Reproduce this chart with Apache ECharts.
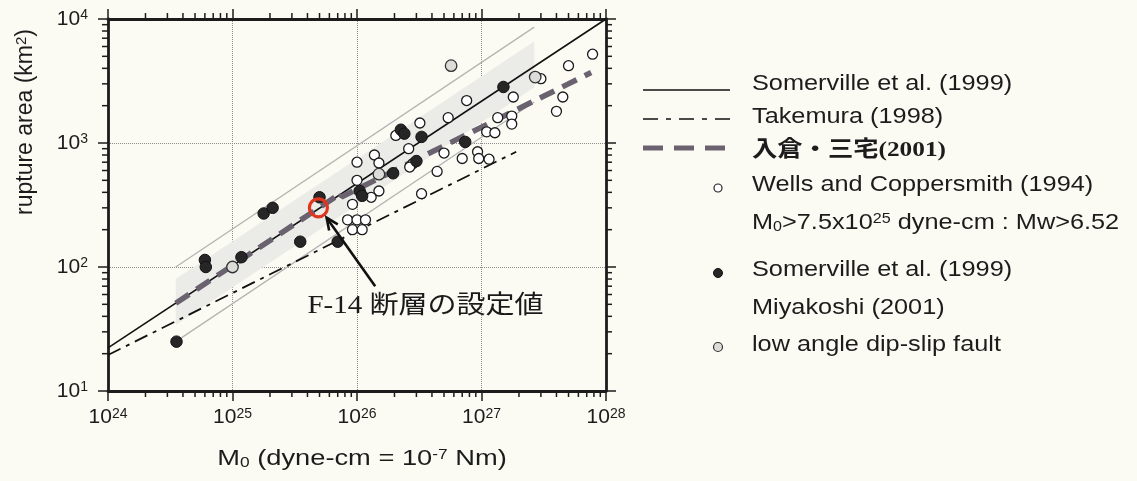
<!DOCTYPE html>
<html>
<head>
<meta charset="utf-8">
<title>rupture area vs seismic moment</title>
<script src="https://cdn.jsdelivr.net/npm/echarts@6/dist/echarts.min.js"></script>
<style>
  html, body { margin: 0; padding: 0; background: #fbfbf3; }
  #chart { width: 1137px; height: 481px; }
</style>
</head>
<body>
<div id="chart"></div>
<script>
// ---- data: [seismic moment M0 (dyne-cm), rupture area (km^2)] ----
const wellsCoppersmith = [
  [7.8e27, 5200], [5.0e27, 4200], [3.0e27, 3300], [1.8e27, 2350], [4.5e27, 2350],
  [7.6e26, 2200], [4.0e27, 1800], [5.4e26, 1600], [1.35e27, 1600], [1.75e27, 1650],
  [1.75e27, 1420], [3.2e26, 1450], [2.05e26, 1150], [1.1e27, 1230], [1.28e27, 1210],
  [2.6e26, 900], [5.0e26, 830], [9.3e26, 850], [9.5e26, 750], [1.15e27, 740],
  [7.0e26, 750], [1.38e26, 800], [1.0e26, 700], [1.5e26, 690], [2.8e26, 680],
  [2.65e26, 640], [4.4e26, 590], [1.0e26, 500], [1.5e26, 410], [3.3e26, 390],
  [1.3e26, 365], [9.2e25, 320], [8.4e25, 240], [1.0e26, 240], [1.17e26, 240],
  [9.2e25, 200], [1.1e26, 200]
];
const somervilleMiyakoshi = [
  [3.55e24, 25], [6.0e24, 114], [6.1e24, 100], [1.18e25, 120], [1.78e25, 270],
  [2.1e25, 300], [3.5e25, 160], [5.0e25, 365], [7.0e25, 160], [1.05e26, 410],
  [1.1e26, 375], [1.95e26, 570], [3.0e26, 715], [2.25e26, 1280], [2.4e26, 1190],
  [3.3e26, 1120], [7.4e26, 1020], [1.5e27, 2830]
];
const lowAngleDipSlip = [[1.0e25, 100], [1.5e26, 560], [5.7e26, 4200], [2.7e27, 3400]];
const f14Setting = [[4.9e25, 300]];

// scaling relations (end points of each drawn segment)
const somervilleLine = [[1e24, 22.3], [1e28, 10000]];
const takemuraLine = [[1e24, 19.5], [1.9e27, 850]];
const irikuraMiyakeLine = [[3.5e24, 51], [7.5e25, 396], [7.5e25, 367], [7.6e27, 3700]];
const upperFactorLine = [[3.5e24, 100], [2.65e27, 8600]];
const lowerFactorLine = [[3.5e24, 25], [2.65e27, 2140]];

// shaded band around the Somerville relation
const bandX = [3.5e24, 2.65e27];
const bandUpper = [80, 6600];
const bandLower = [34, 2800];

// annotation for the F-14 fault
const arrowTail = [1.4e26, 70];
const arrowHead = [5.7e25, 250];
const labelAnchor = [4.0e25, 48];
const f14Label = 'F-14 断層の設定値';

// axes
const xRange = [1e24, 1e28];
const yRange = [1e1, 1e4];
const minorMultipliers = [2, 3, 4, 5, 6, 7, 8, 9];
const xDecadeExponents = [24, 25, 26, 27];
const yDecadeExponents = [1, 2, 3];
const minorX = xDecadeExponents.flatMap(e => minorMultipliers.map(m => m * Math.pow(10, e)));
const minorY = yDecadeExponents.flatMap(e => minorMultipliers.map(m => m * Math.pow(10, e)));

const INK = '#1c1c1c';
const SANS = '"Liberation Sans", Arial, Helvetica, sans-serif';

const chart = echarts.init(document.getElementById('chart'));

const powLabel = v => '{b|10}{s|' + Math.round(Math.log10(v)) + '}';
const powRich = {
  b: { fontSize: 21, fontFamily: SANS, color: INK },
  s: { fontSize: 14, fontFamily: SANS, color: INK, verticalAlign: 'top' }
};

function logAxis(range, position, withLabels, axisIdx) {
  return {
    type: 'log', logBase: 10, min: range[0], max: range[1], position: position,
    axisLine: { show: true, onZero: false, lineStyle: { color: INK, width: 2.8 } },
    axisTick: { show: true, inside: false, length: 10, lineStyle: { color: INK, width: 1.5 } },
    axisLabel: withLabels ? {
      show: true, formatter: powLabel, rich: powRich,
      margin: axisIdx === 'x' ? 16 : 20
    } : { show: false },
    splitLine: { show: withLabels, lineStyle: { type: 'dotted', color: '#8c8c8c', width: 1 } },
    minorTick: { show: false }
  };
}

function minorXTicks(params, api) {
  const cs = params.coordSys;
  const px = api.coord([api.value(0), api.value(1)])[0];
  const st = { stroke: INK, lineWidth: 1.5 };
  return { type: 'group', children: [
    { type: 'line', shape: { x1: px, y1: cs.y + cs.height, x2: px, y2: cs.y + cs.height + 6 }, style: st },
    { type: 'line', shape: { x1: px, y1: cs.y, x2: px, y2: cs.y - 6 }, style: st }
  ] };
}
function minorYTicks(params, api) {
  const cs = params.coordSys;
  const py = api.coord([api.value(0), api.value(1)])[1];
  const st = { stroke: INK, lineWidth: 1.5 };
  return { type: 'group', children: [
    { type: 'line', shape: { x1: cs.x, y1: py, x2: cs.x - 6, y2: py }, style: st },
    { type: 'line', shape: { x1: cs.x + cs.width, y1: py, x2: cs.x + cs.width + 6, y2: py }, style: st }
  ] };
}

function bandRender(params, api) {
  const p = [
    api.coord([bandX[0], bandLower[0]]), api.coord([bandX[1], bandLower[1]]),
    api.coord([bandX[1], bandUpper[1]]), api.coord([bandX[0], bandUpper[0]])
  ];
  return { type: 'polygon', shape: { points: p }, style: { fill: '#ebebe8' } };
}

function annotationRender(params, api) {
  const t = api.coord(arrowTail), h = api.coord(arrowHead), a = api.coord(labelAnchor);
  const dx = h[0] - t[0], dy = h[1] - t[1], len = Math.hypot(dx, dy);
  const ux = dx / len, uy = dy / len, L = 13, ang = 0.42;
  const arm = s => [h[0] - L * (ux * Math.cos(ang) - s * uy * Math.sin(ang)),
                    h[1] - L * (uy * Math.cos(ang) + s * ux * Math.sin(ang))];
  const a1 = arm(1), a2 = arm(-1);
  const st = { stroke: '#111', lineWidth: 2.6 };
  return { type: 'group', children: [
    { type: 'line', shape: { x1: t[0], y1: t[1], x2: h[0], y2: h[1] }, style: st },
    { type: 'polyline', shape: { points: [a1, h, a2] }, style: Object.assign({ fill: null }, st) },
    { type: 'text', x: a[0], y: a[1], scaleX: 1.16,
      style: { text: f14Label, fontSize: 25, fontFamily: '"Liberation Serif", "DejaVu Serif", "Noto Sans CJK JP", serif',
               fill: '#1a1a1a', align: 'left', verticalAlign: 'middle' } }
  ] };
}

const lineSeries = (data, style, z) => ({
  type: 'line', data: data, symbol: 'none', silent: true, z: z,
  lineStyle: style, animation: false
});

const legendText = (x, y, text, extra) => Object.assign({
  type: 'text', x: x, y: y, scaleX: 1.15,
  style: Object.assign({ text: text, fontSize: 22, fontFamily: SANS, fill: INK, verticalAlign: 'middle',
    rich: {
      sub: { fontSize: 14, fontFamily: SANS, fill: INK, verticalAlign: 'bottom' },
      sup: { fontSize: 14, fontFamily: SANS, fill: INK, verticalAlign: 'top' }
    } }, extra || {})
});

const option = {
  backgroundColor: '#fbfbf3',
  animation: false,
  grid: { left: 108, right: 531, top: 19, bottom: 90, containLabel: false, outerBoundsMode: 'none' },
  xAxis: [logAxis(xRange, 'bottom', true, 'x'), logAxis(xRange, 'top', false, 'x')],
  yAxis: [logAxis(yRange, 'left', true, 'y'), logAxis(yRange, 'right', false, 'y')],
  series: [
    { type: 'custom', renderItem: bandRender, data: [[bandX[0], bandUpper[0]]], silent: true, z: 1, clip: false },
    lineSeries(upperFactorLine, { color: '#b4b4b4', width: 1.3 }, 2),
    lineSeries(lowerFactorLine, { color: '#b4b4b4', width: 1.3 }, 2),
    lineSeries(takemuraLine, { color: '#111', width: 1.8, type: [14, 6, 4, 6] }, 3),
    lineSeries(somervilleLine, { color: '#111', width: 1.6 }, 3),
    lineSeries(irikuraMiyakeLine, { color: '#6b6270', width: 5.5, type: [16, 9] }, 4),
    { name: 'Wells and Coppersmith (1994)', type: 'scatter', data: wellsCoppersmith, symbol: 'circle', symbolSize: 10,
      itemStyle: { color: '#ffffff', borderColor: '#1a1a1a', borderWidth: 1.3, opacity: 1 }, z: 5 },
    { name: 'Somerville et al. (1999) / Miyakoshi (2001)', type: 'scatter', data: somervilleMiyakoshi, symbol: 'circle', symbolSize: 11.5,
      itemStyle: { color: '#262626', borderColor: '#111', borderWidth: 1, opacity: 1 }, z: 6 },
    { name: 'low angle dip-slip fault', type: 'scatter', data: lowAngleDipSlip, symbol: 'circle', symbolSize: 11.5,
      itemStyle: { color: '#dcdcd8', borderColor: '#333', borderWidth: 1.3, opacity: 1 }, z: 6 },
    { name: 'F-14', type: 'scatter', data: f14Setting, symbol: 'circle', symbolSize: 18,
      itemStyle: { color: 'rgba(0,0,0,0)', borderColor: '#e0361f', borderWidth: 3.2, opacity: 1 }, z: 7 },
    { type: 'custom', renderItem: annotationRender, data: [[arrowTail[0], arrowTail[1]]], silent: true, z: 8, clip: false },
    { type: 'custom', renderItem: minorXTicks, data: minorX.map(v => [v, 100]), silent: true, z: 9, clip: false },
    { type: 'custom', renderItem: minorYTicks, data: minorY.map(v => [1e25, v]), silent: true, z: 9, clip: false }
  ],
  graphic: [
    // axis titles
    { type: 'text', x: 362, y: 459, scaleX: 1.24,
      style: { text: 'M{sub|0} (dyne-cm = 10{sup|-7} Nm)', fontSize: 22, fontFamily: SANS, fill: INK,
        align: 'center', verticalAlign: 'middle',
        rich: { sub: { fontSize: 14, fontFamily: SANS, fill: INK, verticalAlign: 'bottom' },
                sup: { fontSize: 14, fontFamily: SANS, fill: INK, verticalAlign: 'top' } } } },
    { type: 'text', x: 26, y: 122, rotation: Math.PI / 2,
      style: { text: 'rupture area (km{sup|2})', fontSize: 23, fontFamily: SANS, fill: INK,
        align: 'center', verticalAlign: 'middle',
        rich: { sup: { fontSize: 15, fontFamily: SANS, fill: INK, verticalAlign: 'top' } } } },
    // legend keys
    { type: 'line', shape: { x1: 643, y1: 90, x2: 730, y2: 90 }, style: { stroke: '#111', lineWidth: 1.5 } },
    { type: 'line', shape: { x1: 643, y1: 119, x2: 730, y2: 119 }, style: { stroke: '#111', lineWidth: 1.5, lineDash: [15, 8, 5, 8] } },
    { type: 'line', shape: { x1: 643, y1: 148, x2: 726, y2: 148 }, style: { stroke: '#6b6270', lineWidth: 5, lineDash: [20, 11] } },
    { type: 'circle', shape: { cx: 718, cy: 188, r: 4 }, style: { fill: '#fff', stroke: '#222', lineWidth: 1.2 } },
    { type: 'circle', shape: { cx: 718, cy: 273, r: 4.5 }, style: { fill: '#262626', stroke: '#111', lineWidth: 1 } },
    { type: 'circle', shape: { cx: 718, cy: 347, r: 4.5 }, style: { fill: '#dcdcd8', stroke: '#333', lineWidth: 1.2 } },
    // legend labels
    legendText(752, 84, 'Somerville et al. (1999)'),
    legendText(752, 117, 'Takemura (1998)'),
    legendText(752, 150, '入倉・三宅(2001)', { fontWeight: 'bold', fontFamily: '"Liberation Serif", "Noto Sans CJK JP", serif' }),
    legendText(752, 185, 'Wells and Coppersmith (1994)'),
    legendText(752, 223, 'M{sub|0}>7.5x10{sup|25} dyne-cm : Mw>6.52'),
    legendText(752, 270, 'Somerville et al. (1999)'),
    legendText(752, 308, 'Miyakoshi (2001)'),
    legendText(752, 345, 'low angle dip-slip fault')
  ]
};

chart.setOption(option);
</script>
</body>
</html>
